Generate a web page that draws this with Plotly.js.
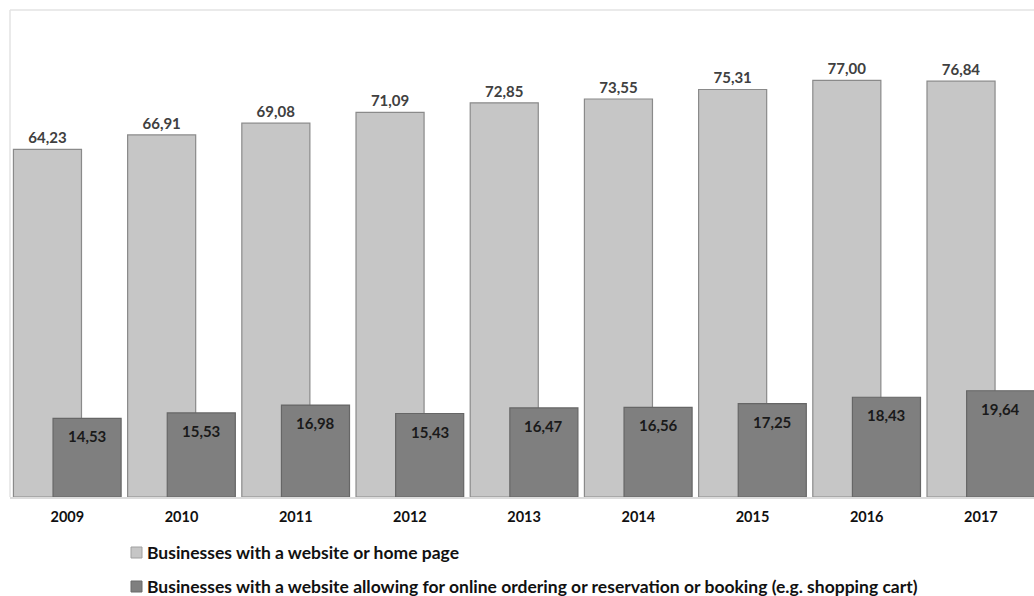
<!DOCTYPE html>
<html>
<head>
<meta charset="utf-8">
<script src="https://cdn.plot.ly/plotly-3.0.1.min.js"></script>
<style>
  html, body { margin: 0; padding: 0; background: #ffffff; }
  #chart { width: 1034px; height: 596px; }
</style>
</head>
<body>
<div id="chart"></div>
<script>
// Share of businesses with a web presence, by year
const years = ['2009', '2010', '2011', '2012', '2013', '2014', '2015', '2016', '2017'];
const websiteShare = [64.23, 66.91, 69.08, 71.09, 72.85, 73.55, 75.31, 77.00, 76.84];
const orderingShare = [14.53, 15.53, 16.98, 15.43, 16.47, 16.56, 17.25, 18.43, 19.64];
const seriesNames = [
  'Businesses with a website or home page',
  'Businesses with a website allowing for online ordering or reservation or booking (e.g. shopping cart)'
];
const seriesColors = ['#c6c6c6', '#7f7f7f'];

const FONT = 'Lato, "Noto Sans", sans-serif';
const fmt = v => v.toFixed(2).replace('.', ',');

// bar geometry in category units
const BAR_W = 0.596;
const OFF_BACK = -0.472;
const OFF_FRONT = -0.125;

const traces = [
  {
    type: 'bar',
    x: years,
    y: websiteShare,
    name: seriesNames[0],
    width: BAR_W,
    offset: OFF_BACK,
    marker: { color: seriesColors[0], line: { color: '#8a8a8a', width: 1.2 } },
    text: websiteShare.map(fmt),
    textposition: 'outside',
    cliponaxis: false,
    textfont: { family: FONT, size: 15, color: '#404040', weight: 'bold' },
    hoverinfo: 'skip'
  },
  {
    type: 'bar',
    x: years,
    y: orderingShare,
    name: seriesNames[1],
    width: BAR_W,
    offset: OFF_FRONT,
    marker: { color: seriesColors[1], line: { color: '#666666', width: 1.2 } },
    textposition: 'none',
    hoverinfo: 'skip'
  }
];

const annotations = [];
// value labels just inside the top of the front bars (x as category index)
years.forEach((yr, i) => {
  annotations.push({
    xref: 'x', yref: 'y', x: i + OFF_FRONT + BAR_W / 2, y: orderingShare[i],
    xanchor: 'center', yanchor: 'top', yshift: -7,
    text: fmt(orderingShare[i]), showarrow: false,
    font: { family: FONT, size: 15, color: '#1a1a1a', weight: 'bold' }
  });
});

// Legend drawn as swatches plus labels below the plot
const legendRows = [
  { swatchTop: 547, label: seriesNames[0], color: seriesColors[0], line: '#a0a0a0' },
  { swatchTop: 581, label: seriesNames[1], color: seriesColors[1], line: '#6a6a6a' }
];

const H = 596, W = 1034;
const shapes = [
  // frame along the top and left of the plotting area
  { type: 'line', xref: 'paper', yref: 'paper', x0: 0, x1: 1.05, y0: 1, y1: 1,
    line: { color: '#e3e3e3', width: 1.5 } },
  { type: 'line', xref: 'paper', yref: 'paper', x0: 0, x1: 0, y0: 0, y1: 1,
    line: { color: '#e3e3e3', width: 1.5 } }
];
legendRows.forEach(r => {
  shapes.push({
    type: 'rect', xref: 'paper', yref: 'paper',
    x0: (131 - 10) / 1024, x1: (142 - 10) / 1024,
    y0: (H - 99 - (r.swatchTop + 11)) / 487, y1: (H - 99 - r.swatchTop) / 487,
    fillcolor: r.color, line: { color: r.line, width: 1 }
  });
  annotations.push({
    xref: 'paper', yref: 'paper', xanchor: 'left', yanchor: 'middle',
    x: (145 - 10) / 1024, y: (H - 99 - (r.swatchTop + 5)) / 487,
    text: r.label, showarrow: false,
    font: { family: FONT, size: 17.5, color: '#111111', weight: 'bold' }
  });
});

const layout = {
  width: W,
  height: H,
  margin: { l: 10, r: 0, t: 10, b: 99 },
  paper_bgcolor: '#ffffff',
  plot_bgcolor: '#ffffff',
  barmode: 'overlay',
  showlegend: false,
  xaxis: {
    type: 'category',
    range: [-0.502, 8.465],
    showgrid: false,
    zeroline: false,
    showline: true,
    linecolor: '#dcdcdc',
    linewidth: 1.5,
    ticks: '',
    tickfont: { family: FONT, size: 14.5, color: '#111111', weight: 'bold' },
    ticklabelstandoff: 6
  },
  yaxis: {
    range: [0, 90],
    showgrid: false,
    zeroline: false,
    showline: false,
    showticklabels: false,
    ticks: ''
  },
  shapes: shapes,
  annotations: annotations
};

Plotly.newPlot('chart', traces, layout, { displayModeBar: false, staticPlot: true });
</script>
</body>
</html>
